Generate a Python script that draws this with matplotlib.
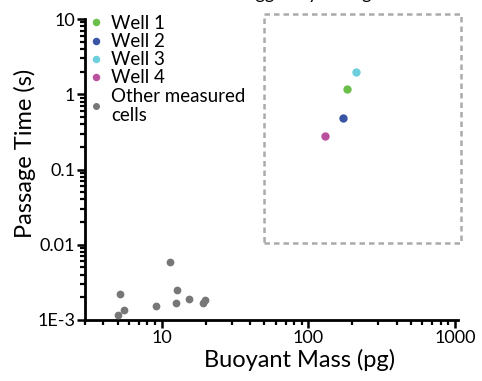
import numpy as np
import matplotlib
matplotlib.use("Agg")
import matplotlib.pyplot as plt
import matplotlib.ticker as mticker
from matplotlib.patches import Rectangle

plt.rcParams['font.family'] = ['Lato', 'DejaVu Sans']

# data
other_mass = [5.06, 5.55, 5.22, 9.1, 11.4, 12.8, 12.5, 15.3, 19.1, 19.6]
other_time = [1.17e-3, 1.36e-3, 2.22e-3, 1.54e-3, 5.9e-3, 2.54e-3, 1.67e-3, 1.92e-3, 1.67e-3, 1.83e-3]

well_names = ["Well 1", "Well 2", "Well 3", "Well 4"]
well_mass = [185, 172, 210, 131]
well_time = [1.16, 0.49, 1.95, 0.275]
well_colors = ["#6abf4b", "#3a55a4", "#6dcfdc", "#b9519f"]

ytick_vals = [1e-3, 1e-2, 1e-1, 1, 10]
ytick_labels = ["1E-3", "0.01", "0.1", "1", "10"]
xtick_vals = [10, 100, 1000]
xtick_labels = ["10", "100", "1000"]

fig = plt.figure(figsize=(4.82, 3.81), dpi=100)
ax = fig.add_axes([85/482, 1-320/381, 373/482, 301/381])

for name, m, t, c in zip(well_names, well_mass, well_time, well_colors):
    ax.plot(m, t, 'o', color=c, markersize=6, markeredgewidth=0, label=name, zorder=3)
ax.plot(other_mass, other_time, 'o', color='#777777', markersize=5.6, markeredgewidth=0,
        label="Other measured\ncells", zorder=3)

ax.set_xscale('log')
ax.set_yscale('log')
ax.set_xlim(3, 1050)
ax.set_ylim(1e-3, 10)

ax.set_yticks(ytick_vals)
ax.set_yticklabels(ytick_labels)
ax.set_xticks(xtick_vals)
ax.set_xticklabels(xtick_labels)
ax.xaxis.set_minor_locator(mticker.LogLocator(base=10, subs=np.arange(2, 10)))
ax.yaxis.set_minor_locator(mticker.LogLocator(base=10, subs=np.arange(2, 10)))
ax.xaxis.set_minor_formatter(mticker.NullFormatter())
ax.yaxis.set_minor_formatter(mticker.NullFormatter())

for s in ['top', 'right']:
    ax.spines[s].set_visible(False)
for s in ['left', 'bottom']:
    ax.spines[s].set_linewidth(2)
ax.tick_params(which='major', length=6, width=1.8, labelsize=13, pad=1, direction='out')
ax.tick_params(which='minor', length=3.5, width=1.6)

ax.set_xlabel("Buoyant Mass (pg)", fontsize=17, va='center')
ax.xaxis.set_label_coords((300-85)/373, (320-360)/301)
ax.set_ylabel("Passage Time (s)", fontsize=17, va='center')
ax.yaxis.set_label_coords((25-85)/373, (320-153)/301)

# dashed selection box
box = Rectangle((50, 0.0107), 1100-50, 11.7-0.0107, fill=False, edgecolor='#aaaaaa',
                linestyle=(0, (2.2, 1.6)), linewidth=1.8, clip_on=False)
ax.add_patch(box)

leg = ax.legend(loc='upper left', bbox_to_anchor=(0.0, 1.038), frameon=False, fontsize=13.5,
                handlelength=0.4, handletextpad=0.6, labelspacing=0.06, borderaxespad=0,
                markerscale=0.9)

# title mostly cut off at the top edge
fig.text(-0.049, 1 + 1.5/381, "Transit times of all the cells were logged by timing the sorter",
         fontsize=13, va='baseline', ha='left')

fig.savefig("out.png", dpi=100)
